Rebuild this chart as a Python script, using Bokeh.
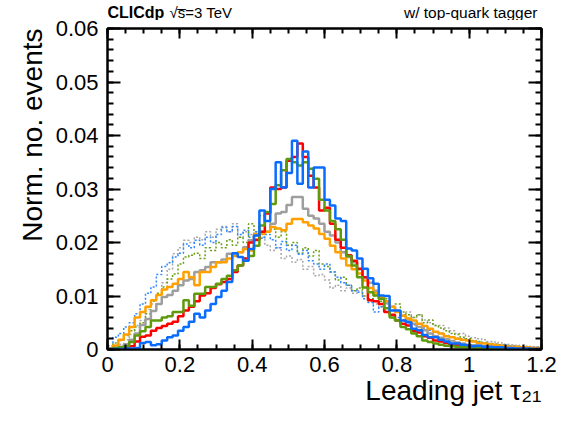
import numpy as np
from bokeh.plotting import figure
from bokeh.models import Range1d, FixedTicker, LinearAxis, Label, Title
from bokeh.layouts import column
from bokeh.embed import file_html
from bokeh.resources import INLINE

# ---------------- data ----------------
x_min, x_max, n_bins = 0.0, 1.2, 80
y_min, y_max = 0.0, 0.06

x_ticks = [0.0, 0.2, 0.4, 0.6, 0.8, 1.0, 1.2]
x_tick_labels = ["0", "0.2", "0.4", "0.6", "0.8", "1", "1.2"]
y_ticks = [0.0, 0.01, 0.02, 0.03, 0.04, 0.05, 0.06]
y_tick_labels = ["0", "0.01", "0.02", "0.03", "0.04", "0.05", "0.06"]

blue_solid = [0.0001, 0.0001, 0.0001, 0.0002, 0.0002, 0.0003, 0.0012, 0.0014, 0.0008, 0.0010,
              0.0017, 0.0023, 0.0026, 0.0035, 0.0042, 0.0052, 0.0067, 0.0060, 0.0073, 0.0085,
              0.0098, 0.0110, 0.0126, 0.0180, 0.0173, 0.0166, 0.0188, 0.0213, 0.0260, 0.0240,
              0.0300, 0.0350, 0.0303, 0.0330, 0.0390, 0.0310, 0.0370, 0.0303, 0.0340, 0.0340,
              0.0280, 0.0269, 0.0245, 0.0240, 0.0189, 0.0185, 0.0170, 0.0151, 0.0133, 0.0123,
              0.0101, 0.0100, 0.0073, 0.0073, 0.0054, 0.0051, 0.0039, 0.0036, 0.0027, 0.0023,
              0.0023, 0.0018, 0.0015, 0.0011, 0.0011, 0.0009, 0.0008, 0.0006, 0.0007, 0.0005,
              0.0005, 0.0004, 0.0004, 0.0003, 0.0003, 0.0002, 0.0002, 0.0002, 0.0001, 0.0001]

red_solid = [0.0001, 0.0002, 0.0002, 0.0003, 0.0006, 0.0015, 0.0024, 0.0026, 0.0035, 0.0040,
             0.0044, 0.0048, 0.0052, 0.0062, 0.0073, 0.0080, 0.0090, 0.0101, 0.0105, 0.0115,
             0.0122, 0.0126, 0.0132, 0.0145, 0.0157, 0.0170, 0.0200, 0.0205, 0.0220, 0.0254,
             0.0303, 0.0300, 0.0303, 0.0353, 0.0360, 0.0385, 0.0360, 0.0325, 0.0303, 0.0260,
             0.0265, 0.0235, 0.0205, 0.0190, 0.0176, 0.0166, 0.0151, 0.0135, 0.0092, 0.0090,
             0.0085, 0.0070, 0.0065, 0.0054, 0.0048, 0.0045, 0.0034, 0.0032, 0.0025, 0.0022,
             0.0017, 0.0015, 0.0012, 0.0009, 0.0008, 0.0007, 0.0006, 0.0005, 0.0004, 0.0004,
             0.0003, 0.0003, 0.0002, 0.0002, 0.0002, 0.0001, 0.0001, 0.0001, 0.0001, 0.0001]

green_solid = [0.0001, 0.0003, 0.0004, 0.0006, 0.0014, 0.0026, 0.0034, 0.0042, 0.0054, 0.0054,
               0.0060, 0.0062, 0.0070, 0.0070, 0.0092, 0.0082, 0.0104, 0.0104, 0.0117, 0.0117,
               0.0123, 0.0132, 0.0138, 0.0148, 0.0157, 0.0166, 0.0175, 0.0194, 0.0232, 0.0257,
               0.0272, 0.0307, 0.0335, 0.0356, 0.0350, 0.0344, 0.0350, 0.0338, 0.0319, 0.0280,
               0.0260, 0.0240, 0.0225, 0.0205, 0.0175, 0.0157, 0.0135, 0.0116, 0.0107, 0.0101,
               0.0095, 0.0077, 0.0060, 0.0054, 0.0042, 0.0038, 0.0030, 0.0025, 0.0017, 0.0014,
               0.0011, 0.0009, 0.0007, 0.0006, 0.0005, 0.0004, 0.0004, 0.0003, 0.0003, 0.0002,
               0.0002, 0.0002, 0.0001, 0.0001, 0.0001, 0.0001, 0.0001, 0.0001, 0.0001, 0.0001]

gray_solid = [0.0001, 0.0002, 0.0005, 0.0010, 0.0018, 0.0030, 0.0046, 0.0057, 0.0072, 0.0085,
              0.0098, 0.0102, 0.0110, 0.0120, 0.0129, 0.0132, 0.0145, 0.0148, 0.0154, 0.0163,
              0.0163, 0.0168, 0.0179, 0.0179, 0.0182, 0.0191, 0.0204, 0.0204, 0.0220, 0.0220,
              0.0235, 0.0254, 0.0257, 0.0270, 0.0285, 0.0285, 0.0263, 0.0250, 0.0245, 0.0235,
              0.0220, 0.0213, 0.0200, 0.0182, 0.0173, 0.0163, 0.0150, 0.0135, 0.0125, 0.0110,
              0.0095, 0.0087, 0.0080, 0.0072, 0.0063, 0.0054, 0.0048, 0.0042, 0.0036, 0.0030,
              0.0025, 0.0022, 0.0019, 0.0016, 0.0013, 0.0011, 0.0009, 0.0008, 0.0007, 0.0006,
              0.0005, 0.0004, 0.0004, 0.0003, 0.0003, 0.0002, 0.0002, 0.0002, 0.0001, 0.0001]

orange_solid = [0.0002, 0.00075, 0.0018, 0.0028, 0.0042, 0.0060, 0.0070, 0.0080, 0.0092, 0.0102,
                0.0112, 0.0117, 0.0123, 0.0132, 0.0145, 0.0135, 0.0120, 0.0145, 0.0145, 0.0154,
                0.0163, 0.0163, 0.0170, 0.0175, 0.0182, 0.0188, 0.0185, 0.0216, 0.0216, 0.0220,
                0.0229, 0.0226, 0.0223, 0.0235, 0.0244, 0.0244, 0.0238, 0.0232, 0.0226, 0.0216,
                0.0207, 0.0194, 0.0182, 0.0170, 0.0157, 0.0150, 0.0142, 0.0129, 0.0115, 0.0105,
                0.0098, 0.0090, 0.0080, 0.0070, 0.0063, 0.0058, 0.0054, 0.0048, 0.0044, 0.0039,
                0.0033, 0.0030, 0.0025, 0.0023, 0.0020, 0.0018, 0.0017, 0.0015, 0.0012, 0.0011,
                0.0010, 0.0009, 0.0007, 0.0006, 0.0005, 0.0005, 0.0004, 0.0004, 0.0003, 0.0003]

blue_dotted = [0.0007, 0.0023, 0.0030, 0.0042, 0.0050, 0.0067, 0.0085, 0.0105, 0.0117, 0.0140,
               0.0155, 0.0162, 0.0173, 0.0180, 0.0197, 0.0190, 0.0204, 0.0195, 0.0210, 0.0200,
               0.0215, 0.0228, 0.0220, 0.0230, 0.0215, 0.0223, 0.0210, 0.0220, 0.0208, 0.0215,
               0.0205, 0.0190, 0.0202, 0.0185, 0.0195, 0.0178, 0.0185, 0.0166, 0.0160, 0.0150,
               0.0160, 0.0145, 0.0135, 0.0125, 0.0120, 0.0110, 0.0107, 0.0095, 0.0088, 0.0070,
               0.0080, 0.0072, 0.0065, 0.0060, 0.0055, 0.0050, 0.0046, 0.0042, 0.0040, 0.0036,
               0.0033, 0.0030, 0.0026, 0.0024, 0.0021, 0.0020, 0.0018, 0.0015, 0.0014, 0.0012,
               0.0011, 0.0010, 0.0009, 0.0008, 0.0007, 0.0006, 0.0005, 0.0005, 0.0004, 0.0004]

green_dotted = [0.0003, 0.0012, 0.0017, 0.0026, 0.0035, 0.0042, 0.0050, 0.0067, 0.0090, 0.0105,
                0.0117, 0.0132, 0.0141, 0.0160, 0.0173, 0.0176, 0.0180, 0.0170, 0.0190, 0.0185,
                0.0200, 0.0190, 0.0205, 0.0195, 0.0210, 0.0200, 0.0235, 0.0220, 0.0250, 0.0240,
                0.0225, 0.0210, 0.0220, 0.0195, 0.0200, 0.0180, 0.0190, 0.0175, 0.0185, 0.0160,
                0.0155, 0.0145, 0.0130, 0.0135, 0.0120, 0.0110, 0.0115, 0.0100, 0.0095, 0.0100,
                0.0090, 0.0095, 0.0080, 0.0085, 0.0070, 0.0065, 0.0060, 0.0065, 0.0050, 0.0055,
                0.0045, 0.0040, 0.0035, 0.0030, 0.0028, 0.0023, 0.0020, 0.0017, 0.0015, 0.0013,
                0.0011, 0.0010, 0.0009, 0.0007, 0.0006, 0.0005, 0.0005, 0.0004, 0.0003, 0.0003]

gray_dotted = [0.0002, 0.0005, 0.0010, 0.0018, 0.0028, 0.0045, 0.0054, 0.0075, 0.0085, 0.0104,
               0.0125, 0.0150, 0.0179, 0.0190, 0.0204, 0.0200, 0.0210, 0.0205, 0.0220, 0.0210,
               0.0225, 0.0230, 0.0220, 0.0235, 0.0210, 0.0220, 0.0215, 0.0205, 0.0210, 0.0195,
               0.0185, 0.0190, 0.0170, 0.0175, 0.0163, 0.0168, 0.0150, 0.0155, 0.0138, 0.0140,
               0.0130, 0.0115, 0.0120, 0.0110, 0.0115, 0.0105, 0.0110, 0.0100, 0.0090, 0.0085,
               0.0080, 0.0085, 0.0075, 0.0070, 0.0065, 0.0070, 0.0060, 0.0065, 0.0055, 0.0050,
               0.0045, 0.0045, 0.0040, 0.0035, 0.0030, 0.0030, 0.0025, 0.0022, 0.0020, 0.0018,
               0.0015, 0.0014, 0.0012, 0.0010, 0.0009, 0.0008, 0.0007, 0.0006, 0.0005, 0.0005]

# ---------------- layout constants ----------------
FONT = "Liberation Sans"
W = 570
TOP_H = 20
MAIN_H = 400
B_LEFT, B_RIGHT = 107, 29
HEAD_Y = 8

# ---------------- top strip with the headline texts ----------------
top = figure(width=W, height=TOP_H, x_range=Range1d(x_min, x_max), y_range=Range1d(0, TOP_H),
             output_backend="svg", toolbar_location=None,
             x_axis_location=None, y_axis_location=None, min_border=0,
             min_border_left=B_LEFT, min_border_right=B_RIGHT,
             min_border_top=0, min_border_bottom=0)
top.outline_line_color = None
top.background_fill_color = None
top.border_fill_color = None
top.grid.visible = False
top.add_layout(Label(x=x_min, y=HEAD_Y, x_offset=0, text="CLICdp", text_font=FONT,
                     text_font_style="bold", text_font_size="16px",
                     text_baseline="alphabetic", text_align="left", text_color="black"))
top.add_layout(Label(x=x_min, y=HEAD_Y, x_offset=62, text="√s̅=3 TeV", text_font=FONT,
                     text_font_size="15px", text_baseline="alphabetic", text_align="left",
                     text_color="black"))
top.add_layout(Label(x=x_max, y=HEAD_Y, x_offset=-4, text="w/ top-quark tagger", text_font=FONT,
                     text_font_size="15.5px", text_baseline="alphabetic", text_align="right",
                     text_color="black"))

# ---------------- main histogram figure ----------------
p = figure(width=W, height=MAIN_H,
           x_range=Range1d(x_min, x_max), y_range=Range1d(y_min, y_max),
           output_backend="svg", toolbar_location=None,
           min_border_left=B_LEFT, min_border_right=B_RIGHT,
           min_border_top=8, min_border_bottom=71)
p.background_fill_color = "white"
p.border_fill_color = None
p.xgrid.visible = False
p.ygrid.visible = False
p.outline_line_color = "black"
p.outline_line_width = 2

x_minor = list(np.round(np.arange(x_min, x_max + 1e-9, 0.05), 4))
y_minor = list(np.round(np.arange(y_min, y_max + 1e-9, 0.002), 5))


def style_axis(ax, tick_len, show_labels, standoff=8):
    ax.axis_line_width = 2
    ax.axis_line_color = "black"
    ax.major_tick_in = tick_len
    ax.major_tick_out = 0
    ax.minor_tick_in = tick_len // 2
    ax.minor_tick_out = 0
    ax.major_tick_line_width = 2
    ax.minor_tick_line_width = 2
    ax.major_tick_line_color = "black"
    ax.minor_tick_line_color = "black"
    ax.major_label_text_font = FONT
    if show_labels:
        ax.major_label_text_font_size = "22px"
        ax.major_label_text_color = "black"
        ax.major_label_standoff = standoff
    else:
        ax.major_label_text_font_size = "1px"
        ax.major_label_text_color = None
        ax.major_label_standoff = 0


xax = p.xaxis[0]
xax.ticker = FixedTicker(ticks=x_ticks, minor_ticks=x_minor)
xax.major_label_overrides = dict(zip(x_ticks, x_tick_labels))
style_axis(xax, 10, True, standoff=7)

yax = p.yaxis[0]
yax.ticker = FixedTicker(ticks=y_ticks, minor_ticks=y_minor)
yax.major_label_overrides = dict(zip(y_ticks, y_tick_labels))
style_axis(yax, 13, True, standoff=9)

top_ax = LinearAxis(ticker=FixedTicker(ticks=x_ticks, minor_ticks=x_minor))
style_axis(top_ax, 10, False)
p.add_layout(top_ax, "above")
right_ax = LinearAxis(ticker=FixedTicker(ticks=y_ticks, minor_ticks=y_minor))
style_axis(right_ax, 13, False)
p.add_layout(right_ax, "right")

# axis titles (aligned to the axis ends as in ROOT)
p.add_layout(Title(text="Norm. no. events", align="right", vertical_align="top",
                   text_font=FONT, text_font_size="28px", text_font_style="normal",
                   standoff=6, text_color="black"), "left")
p.add_layout(Title(text="Leading jet τ₂₁", align="right", vertical_align="top",
                   text_font=FONT, text_font_size="28px", text_font_style="normal",
                   standoff=0, text_color="black"), "below")

edges = np.linspace(x_min, x_max, n_bins + 1)


def hist(values, color, width, dash="solid"):
    y = list(values) + [values[-1]]
    p.step(x=edges, y=y, mode="after", line_color=color, line_width=width,
           line_dash=dash)


hist(gray_dotted, "#a8a8a8", 1.5, "2 2")
hist(green_dotted, "#6a9f12", 1.5, "2 2")
hist(blue_dotted, "#2f88ff", 1.5, "2 2")
hist(gray_solid, "#9e9e9e", 2.5)
hist(orange_solid, "#ffa000", 2.5)
hist(red_solid, "#ff0000", 2.5)
hist(green_solid, "#5f9a0c", 2.5)
hist(blue_solid, "#0a6cff", 2.5)

layout = column(top, p, spacing=0)
open("out.html", "w").write(file_html(layout, INLINE))
